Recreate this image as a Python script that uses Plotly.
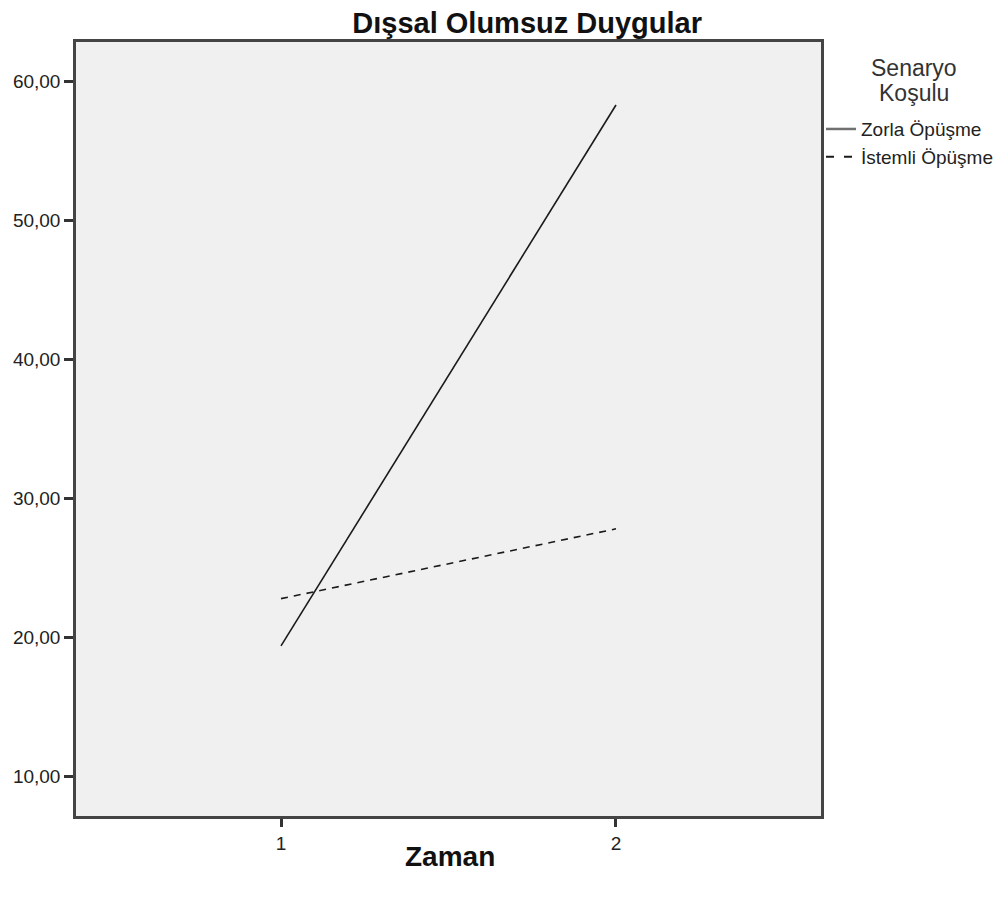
import plotly.graph_objects as go

zaman = [1, 2]
zorla = [19.40, 58.30]
istemli = [22.80, 27.82]
y_ticks = [10, 20, 30, 40, 50, 60]
y_labels = ["10,00", "20,00", "30,00", "40,00", "50,00", "60,00"]
legend_names = ["Zorla Öpüşme", "İstemli Öpüşme"]

FONT = "Liberation Sans, Arial, sans-serif"

fig = go.Figure()
# data lines
fig.add_trace(go.Scatter(x=zaman, y=zorla, mode="lines", showlegend=False,
                         line=dict(color="#1a1a1a", width=1.6)))
fig.add_trace(go.Scatter(x=zaman, y=istemli, mode="lines", showlegend=False,
                         line=dict(color="#1a1a1a", width=1.6, dash="7px,6px")))
# legend entries only (SPSS draws the solid sample in grey)
fig.add_trace(go.Scatter(x=[None], y=[None], mode="lines", name=legend_names[0],
                         line=dict(color="#707070", width=2.5)))
fig.add_trace(go.Scatter(x=[None], y=[None], mode="lines", name=legend_names[1],
                         line=dict(color="#1a1a1a", width=2, dash="8px,10px")))

fig.update_layout(
    width=1008, height=902,
    margin=dict(l=68, r=195, t=34, b=94),
    plot_bgcolor="#f0f0f0", paper_bgcolor="white",
    font=dict(family=FONT, size=19, color="#222222"),
    title=dict(text="<b>Dışsal Olumsuz Duygular</b>", x=0.515, xanchor="center",
               y=0.984, yanchor="middle", font=dict(size=29, color="#111111")),
    legend=dict(x=1.0, xanchor="left", y=0.912, yanchor="top",
                bgcolor="rgba(0,0,0,0)", font=dict(size=19, color="#222222"),
                itemwidth=30, tracegroupgap=0),
    showlegend=True,
)
for txt, yy in [("Senaryo", 0.966), ("Koşulu", 0.934)]:
    fig.add_annotation(text=txt, xref="paper", yref="paper",
                       x=1.125, y=yy, xanchor="center", yanchor="middle",
                       showarrow=False, font=dict(size=23, color="#333333"))
fig.add_annotation(text="<b>Zaman</b>", xref="paper", yref="paper",
                   x=0.502, y=-0.052, xanchor="center", yanchor="middle",
                   showarrow=False, font=dict(size=28, color="#111111"))

fig.update_xaxes(range=[0.388, 2.612], tickvals=[1, 2], ticktext=["1", "2"],
                 tickfont=dict(color="#222222", size=19), automargin=False,
                 ticks="outside", ticklen=8, tickcolor="#333333", tickwidth=2.5,
                 showgrid=False, zeroline=False, showline=True, linecolor="#444444",
                 linewidth=2.5, mirror=True)
fig.update_yaxes(range=[7.17, 62.83], tickvals=y_ticks, ticktext=y_labels,
                 tickfont=dict(color="#222222", size=19), automargin=False,
                 ticks="outside", ticklen=9, tickcolor="#333333", tickwidth=2.5,
                 showgrid=False, zeroline=False, showline=True, linecolor="#444444",
                 linewidth=2.5, mirror=True)

fig.write_html("out.html")
